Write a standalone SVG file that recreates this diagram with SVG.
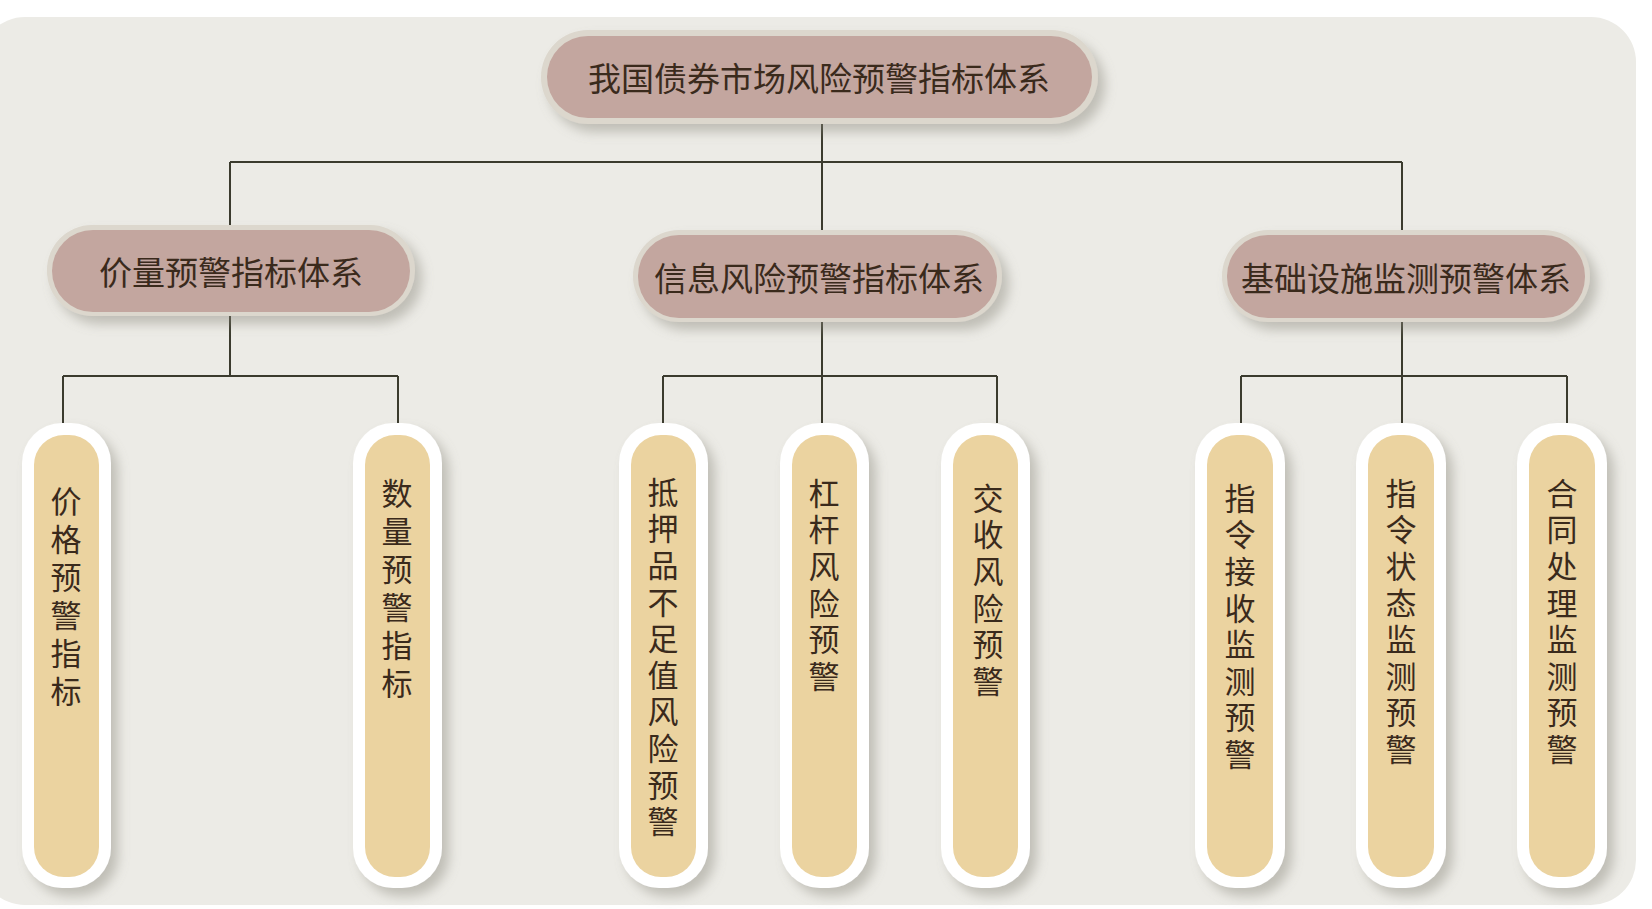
<svg xmlns="http://www.w3.org/2000/svg" width="1652" height="909" viewBox="0 0 1652 909">
<defs>
<filter id="sh" x="-20%" y="-20%" width="150%" height="150%">
<feDropShadow dx="7" dy="8" stdDeviation="6" flood-color="#8a877c" flood-opacity="0.45"/>
</filter>
<style>
.ring{fill:#DCD7CD}
.nfill{fill:#C3A69F}
.lring{fill:#FFFFFF}
.lfill{fill:#EBD3A0}
.t{font-family:"Noto Sans CJK SC","Noto Sans",sans-serif;fill:#3A2A1C;text-anchor:middle;dominant-baseline:central}
.nt{font-size:33px}
.lt{font-size:31px;writing-mode:vertical-rl;text-anchor:start;letter-spacing:5.6px}
.w{letter-spacing:7px}
.c{stroke:#3B3B2E;stroke-width:2;fill:none}
</style>
</defs>
<rect x="0" y="0" width="1652" height="909" fill="#FFFFFF"/>
<rect x="-20" y="17" width="1656" height="888" rx="45" fill="#ECEBE6"/>

<g id="connectors">
<path class="c" d="M822 124 V162 M230 162 H1402 M230 162 V225 M822 162 V230 M1402 162 V230"/>
<path class="c" d="M230 316 V376 M63 376 H398 M63 376 V423 M398 376 V423"/>
<path class="c" d="M822 322 V376 M663 376 H997 M663 376 V423 M822 376 V423 M997 376 V423"/>
<path class="c" d="M1402 322 V376 M1241 376 H1567 M1241 376 V423 M1402 376 V423 M1567 376 V423"/>
</g>

<g id="root">
<rect class="ring" x="541" y="30" width="557" height="94" rx="47" filter="url(#sh)"/>
<rect class="nfill" x="547" y="36" width="545" height="82" rx="41"/>
<text class="t nt" x="819" y="77">我国债券市场风险预警指标体系</text>
</g>

<g id="n1">
<rect class="ring" x="47" y="225" width="368" height="91" rx="45" filter="url(#sh)"/>
<rect class="nfill" x="52" y="230" width="358" height="82" rx="41"/>
<text class="t nt" x="231" y="271">价量预警指标体系</text>
</g>
<g id="n2">
<rect class="ring" x="633" y="230" width="369" height="92" rx="46" filter="url(#sh)"/>
<rect class="nfill" x="638" y="235" width="359" height="83" rx="41"/>
<text class="t nt" x="819" y="277">信息风险预警指标体系</text>
</g>
<g id="n3">
<rect class="ring" x="1222" y="230" width="368" height="92" rx="46" filter="url(#sh)"/>
<rect class="nfill" x="1227" y="235" width="358" height="83" rx="41"/>
<text class="t nt" x="1406" y="277">基础设施监测预警体系</text>
</g>

<g id="l1">
<rect class="lring" x="22" y="423" width="89" height="465" rx="40" filter="url(#sh)"/>
<rect class="lfill" x="34" y="435" width="65" height="442" rx="30"/>
<text class="t lt w" x="66" y="485.5">价格预警指标</text>
</g>
<g id="l2">
<rect class="lring" x="353" y="423" width="89" height="465" rx="40" filter="url(#sh)"/>
<rect class="lfill" x="365" y="435" width="65" height="442" rx="30"/>
<text class="t lt w" x="397" y="477.5">数量预警指标</text>
</g>
<g id="l3">
<rect class="lring" x="619" y="423" width="89" height="465" rx="40" filter="url(#sh)"/>
<rect class="lfill" x="631" y="435" width="65" height="442" rx="30"/>
<text class="t lt" x="663" y="476.5">抵押品不足值风险预警</text>
</g>
<g id="l4">
<rect class="lring" x="780" y="423" width="89" height="465" rx="40" filter="url(#sh)"/>
<rect class="lfill" x="792" y="435" width="65" height="442" rx="30"/>
<text class="t lt" x="824" y="477.5">杠杆风险预警</text>
</g>
<g id="l5">
<rect class="lring" x="941" y="423" width="89" height="465" rx="40" filter="url(#sh)"/>
<rect class="lfill" x="953" y="435" width="65" height="442" rx="30"/>
<text class="t lt" x="988" y="482.5">交收风险预警</text>
</g>
<g id="l6">
<rect class="lring" x="1195" y="423" width="90" height="465" rx="40" filter="url(#sh)"/>
<rect class="lfill" x="1207" y="435" width="66" height="442" rx="30"/>
<text class="t lt" x="1240" y="482.5">指令接收监测预警</text>
</g>
<g id="l7">
<rect class="lring" x="1356" y="423" width="90" height="465" rx="40" filter="url(#sh)"/>
<rect class="lfill" x="1368" y="435" width="66" height="442" rx="30"/>
<text class="t lt" x="1401" y="477.5">指令状态监测预警</text>
</g>
<g id="l8">
<rect class="lring" x="1517" y="423" width="90" height="465" rx="40" filter="url(#sh)"/>
<rect class="lfill" x="1529" y="435" width="66" height="442" rx="30"/>
<text class="t lt" x="1562" y="477.5">合同处理监测预警</text>
</g>
</svg>
